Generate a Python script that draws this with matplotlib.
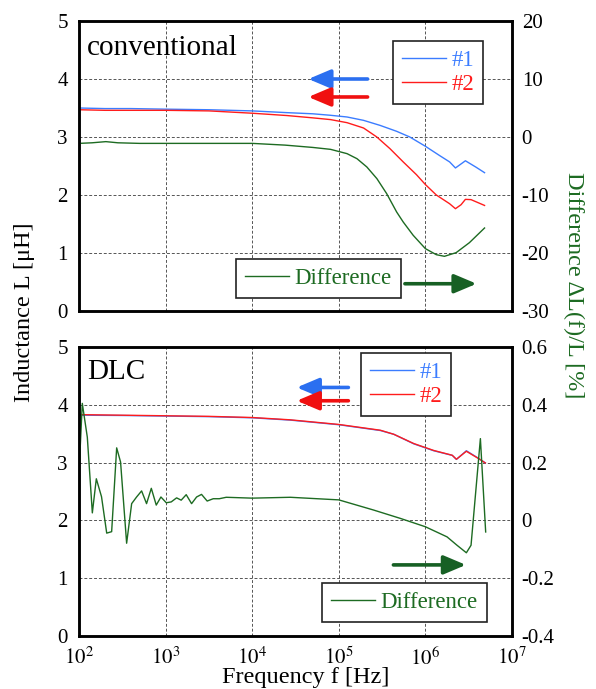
import numpy as np
import matplotlib
matplotlib.use("Agg")
import matplotlib.pyplot as plt
from matplotlib.lines import Line2D

plt.rcParams['font.family'] = ['Liberation Serif', 'DejaVu Serif']
plt.rcParams['mathtext.fontset'] = 'stix'
plt.rcParams['axes.unicode_minus'] = False

# ---------------- data (log10 of frequency in Hz) ----------------
# conventional
conv1_logf = [2.0, 2.3, 2.6, 3.0, 3.5, 4.0, 4.4, 4.7, 4.9, 5.095, 5.286, 5.477,
              5.668, 5.82, 6.0, 6.164, 6.28, 6.347, 6.462, 6.584, 6.683]
conv1_L = [3.50, 3.49, 3.49, 3.48, 3.47, 3.45, 3.42, 3.40, 3.375, 3.345, 3.287, 3.20,
           3.098, 3.0, 2.84, 2.68, 2.57, 2.466, 2.59, 2.48, 2.385]

conv2_logf = [2.0, 2.3, 2.6, 3.0, 3.5, 4.0, 4.4, 4.7, 4.905, 5.095, 5.286, 5.439,
              5.59, 5.744, 5.897, 6.0, 6.126, 6.279, 6.347, 6.412, 6.462, 6.527, 6.683]
conv2_L = [3.47, 3.46, 3.46, 3.46, 3.45, 3.41, 3.37, 3.33, 3.30, 3.247, 3.155, 3.0,
           2.80, 2.57, 2.35, 2.18, 2.0, 1.85, 1.764, 1.833, 1.925, 1.92, 1.82]

convd_logf = [2.0, 2.15, 2.31, 2.45, 2.7, 3.0, 3.5, 4.0, 4.38, 4.7, 4.905, 5.095,
              5.21, 5.324, 5.44, 5.553, 5.668, 5.744, 5.859, 6.0, 6.126, 6.22,
              6.355, 6.508, 6.683]
convd_pct = [-1.1, -1.0, -0.8, -1.0, -1.1, -1.1, -1.1, -1.1, -1.4, -1.8, -2.13, -2.87,
             -3.74, -5.17, -7.18, -9.77, -12.93, -14.66, -16.95, -19.25, -20.29, -20.57,
             -19.94, -18.22, -15.69]

# DLC
dlc2_logf = [2.0, 2.5, 3.0, 3.5, 4.0, 4.44, 5.0, 5.48, 5.635, 5.865, 6.096, 6.31,
             6.358, 6.473, 6.596, 6.692]
dlc2_L = [3.83, 3.82, 3.81, 3.80, 3.78, 3.74, 3.66, 3.56, 3.49, 3.33, 3.21, 3.127,
          3.058, 3.196, 3.086, 2.994]
dlc1_logf = dlc2_logf
dlc1_L = [3.82, 3.815, 3.805, 3.795, 3.775, 3.735, 3.655, 3.555, 3.49, 3.325, 3.205,
          3.125, 3.055, 3.205, 3.09, 2.995]

dlcd_logf = [2.0, 2.038, 2.096, 2.154, 2.2, 2.26, 2.32, 2.377, 2.435, 2.48, 2.55,
             2.608, 2.665, 2.723, 2.78, 2.835, 2.892, 2.946, 3.008, 3.065, 3.127,
             3.18, 3.238, 3.3, 3.358, 3.415, 3.48, 3.55, 3.62, 3.70, 4.0, 4.44,
             5.0, 5.40, 5.71, 6.0, 6.25, 6.365, 6.473, 6.527, 6.635, 6.696]
dlcd_pct = [0.162, 0.405, 0.288, 0.026, 0.144, 0.082, -0.044, -0.039, 0.251, 0.202,
            -0.079, 0.058, 0.081, 0.102, 0.058, 0.111, 0.053, 0.081, 0.061, 0.064,
            0.078, 0.070, 0.089, 0.058, 0.081, 0.090, 0.067, 0.075, 0.075, 0.080,
            0.077, 0.080, 0.071, 0.036, 0.007, -0.022, -0.057, -0.086, -0.112,
            -0.086, 0.283, -0.04]

left_ticks = [0, 1, 2, 3, 4, 5]
conv_right_ticks = [-30, -20, -10, 0, 10, 20]
dlc_right_ticks = [-0.4, -0.2, 0, 0.2, 0.4, 0.6]
dlc_right_labels = ['-0.4', '-0.2', '0', '0.2', '0.4', '0.6']
x_ticks = [1e2, 1e3, 1e4, 1e5, 1e6, 1e7]

# ---------------- styling ----------------
W, H = 596, 689
C_BLUE = '#3b7cff'
C_RED = '#ff1c1c'
C_GREEN = '#1d6b22'
A_BLUE = '#2b6ff0'
A_RED = '#f01010'
A_GREEN = '#176024'
FS_TICK = 15
FS_LAB = 17.5
FS_LEG = 16.5

fig = plt.figure(figsize=(W / 100, H / 100), dpi=100)


def fx(px):
    return px / W


def fy(py):
    return 1 - py / H


ax_top = fig.add_axes([fx(79), fy(311), fx(512) - fx(79), fy(21) - fy(311)])
ax_bot = fig.add_axes([fx(79), fy(636), fx(512) - fx(79), fy(347) - fy(636)])


def style(ax, rticks, rlabels, rlim, show_x):
    ax.set_xscale('log')
    ax.set_xlim(1e2, 1e7)
    ax.set_ylim(0, 5)
    ax.set_yticks(left_ticks)
    ax.set_yticklabels([str(t) for t in left_ticks])
    ax.set_xticks(x_ticks)
    ax.xaxis.set_minor_locator(matplotlib.ticker.NullLocator())
    if show_x:
        ax.set_xticklabels([r'$10^{%d}$' % int(np.log10(t)) for t in x_ticks])
    else:
        ax.set_xticklabels([])
    ax.grid(True, which='major', ls=(0, (3, 2)), color='#555555', lw=0.7)
    ax.tick_params(axis='both', length=0, labelsize=FS_TICK, pad=8)
    for s in ax.spines.values():
        s.set_linewidth(1.8)
    tw = ax.twinx()
    tw.set_ylim(*rlim)
    tw.set_yticks(rticks)
    tw.set_yticklabels(rlabels)
    tw.tick_params(axis='y', length=0, labelsize=FS_TICK, pad=7)
    for s in tw.spines.values():
        s.set_linewidth(1.8)
    return tw


tw_top = style(ax_top, conv_right_ticks, [str(t) for t in conv_right_ticks], (-30, 20), False)
tw_bot = style(ax_bot, dlc_right_ticks, dlc_right_labels, (-0.4, 0.6), True)

# ---------------- lines ----------------
ax_top.plot(10 ** np.array(conv1_logf), conv1_L, color=C_BLUE, lw=1.0)
ax_top.plot(10 ** np.array(conv2_logf), conv2_L, color=C_RED, lw=1.0)
tw_top.plot(10 ** np.array(convd_logf), convd_pct, color=C_GREEN, lw=1.0)

ax_bot.plot(10 ** np.array(dlc1_logf), dlc1_L, color=C_BLUE, lw=1.0)
ax_bot.plot(10 ** np.array(dlc2_logf), dlc2_L, color=C_RED, lw=1.0)
tw_bot.plot(10 ** np.array(dlcd_logf), dlcd_pct, color=C_GREEN, lw=1.0)


# ---------------- arrows ----------------
def arrow(ax, x0, x1, y, color):
    ax.annotate('', xy=(x1, y), xytext=(x0, y), xycoords='data',
                arrowprops=dict(arrowstyle='-|>,head_length=0.9,head_width=0.38',
                                lw=2.6, color=color, mutation_scale=15,
                                shrinkA=0, shrinkB=0), zorder=5)


arrow(ax_top, 2.15e5, 4.45e4, 4.0, A_BLUE)
arrow(ax_top, 2.15e5, 4.45e4, 3.69, A_RED)
arrow(ax_top, 5.8e5, 3.9e6, 0.47, A_GREEN)
arrow(ax_bot, 1.29e5, 3.27e4, 4.30, A_BLUE)
arrow(ax_bot, 1.29e5, 3.27e4, 4.07, A_RED)
arrow(ax_bot, 4.27e5, 2.94e6, 1.23, A_GREEN)

# ---------------- legends ----------------
h_blue = Line2D([], [], color=C_BLUE, lw=1.0)
h_red = Line2D([], [], color=C_RED, lw=1.0)
h_green = Line2D([], [], color=C_GREEN, lw=1.0)


def legend(handles, labels, x0, y0):
    leg = fig.legend(handles, labels, loc='upper left',
                     bbox_to_anchor=(fx(x0), fy(y0)), bbox_transform=fig.transFigure,
                     fontsize=FS_LEG, frameon=True, fancybox=False, framealpha=1,
                     edgecolor='#222222', borderaxespad=0, handlelength=1.9,
                     handletextpad=0.25, borderpad=0.4, labelspacing=0.1,
                     labelcolor='linecolor')
    leg.get_frame().set_linewidth(1.2)
    return leg


legend([h_blue, h_red], ['#1', '#2'], 393, 41)
legend([h_green], ['Difference'], 236, 259)
legend([h_blue, h_red], ['#1', '#2'], 361, 353)
legend([h_green], ['Difference'], 322, 583)

# ---------------- texts ----------------
fig.text(fx(87), fy(55), 'conventional', fontsize=21, va='baseline', ha='left')
fig.text(fx(87), fy(379), 'DLC', fontsize=21, va='baseline', ha='left')
fig.text(fx(25), fy(312), 'Inductance L [μH]', fontsize=FS_LAB, rotation=90,
         ha='center', va='center')
fig.text(fx(574), fy(285), 'Difference ΔL(f)/L [%]', fontsize=FS_LAB, rotation=270,
         ha='center', va='center', color=C_GREEN)
fig.text(fx(306), fy(683), 'Frequency f [Hz]', fontsize=FS_LAB, ha='center',
         va='baseline')

fig.savefig('out.png', dpi=100)
